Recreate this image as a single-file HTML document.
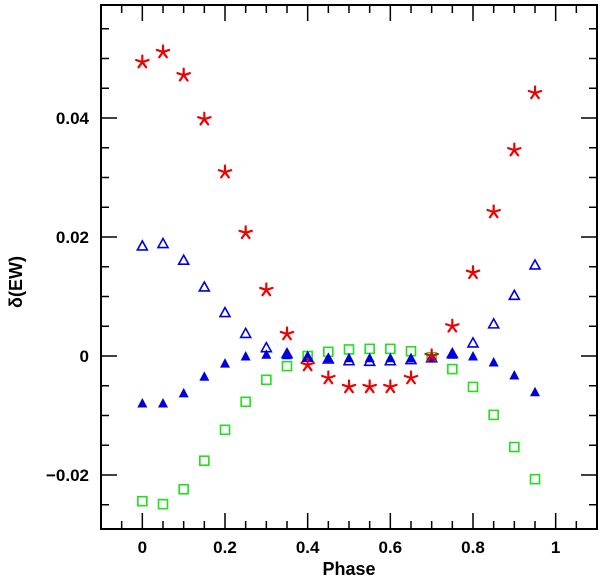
<!DOCTYPE html>
<html><head><meta charset="utf-8"><style>
body{margin:0;background:#fff}
svg text{font-family:"Liberation Sans",sans-serif;font-weight:bold;fill:#000}
</style></head><body>
<svg id="chart" width="600" height="578" xmlns="http://www.w3.org/2000/svg"></svg>
<script>
const phases=[0,0.05,0.1,0.15,0.2,0.25,0.3,0.35,0.4,0.45,0.5,0.55,0.6,0.65,0.7,0.75,0.8,0.85,0.9,0.95];
const stars=[0.0494,0.0511,0.0472,0.0398,0.0309,0.0207,0.0111,0.0037,-0.0015,-0.0037,-0.0052,-0.0052,-0.0052,-0.0037,0,0.005,0.014,0.0242,0.0346,0.0442];
const openTri=[0.0185,0.0189,0.0161,0.0116,0.0073,0.0038,0.0014,0.0004,-0.0002,-0.0005,-0.0008,-0.0009,-0.0008,-0.0006,-0.0003,0.0004,0.0022,0.0054,0.0102,0.0153];
const filledTri=[-0.0079,-0.0079,-0.0062,-0.0034,-0.0012,0,0.0003,0.0002,0,-0.0003,-0.0003,-0.0003,-0.0003,-0.0003,-0.0003,0.0003,0,-0.001,-0.0032,-0.006];
const squares=[-0.0244,-0.0249,-0.0224,-0.0176,-0.0124,-0.0077,-0.004,-0.0017,0,0.0007,0.0011,0.0012,0.0012,0.0008,-0.0002,-0.0022,-0.0052,-0.0099,-0.0153,-0.0207];
const xTickLabels=["0","0.2","0.4","0.6","0.8","1"];
const yTickLabels=["\u22120.02","0","0.02","0.04"];
const yTickValues=[-0.02,0,0.02,0.04];
const L=101,R=597,T=5,B=529,X0=-0.1,X1=1.1;
const sx=v=>L+(v-X0)/(X1-X0)*(R-L);
const sy=v=>356-v/0.02*119;
const svg=document.getElementById('chart');
const NS='http://www.w3.org/2000/svg';
function mk(tag,attrs,parent){const e=document.createElementNS(NS,tag);for(const k in attrs)e.setAttribute(k,attrs[k]);(parent||svg).appendChild(e);return e;}
const frame=mk('rect',{x:L,y:T,width:R-L,height:B-T,fill:'none',stroke:'#000','stroke-width':2});


for(let i=-2;i<=22;i++){const v=i*0.05;if(v<X0-1e-9||v>X1+1e-9)continue;const x=sx(v);const major=i%4===0;const len=major?16:8;
 const t1=mk('line',{x1:x,y1:B,x2:x,y2:B-len,stroke:'#000','stroke-width':1.5});
 const t2=mk('line',{x1:x,y1:T,x2:x,y2:T+len,stroke:'#000','stroke-width':1.5});}
xTickLabels.forEach((s,i)=>{const t=mk('text',{x:sx(i*0.2),y:553,'font-size':17,'text-anchor':'middle'});t.textContent=s;});
for(let i=-6;i<=12;i++){const v=i*0.005;const y=sy(v);if(y<T||y>B)continue;const major=i%4===0;const len=major?16:8;
 const t1=mk('line',{x1:L,y1:y,x2:L+len,y2:y,stroke:'#000','stroke-width':1.5});
 const t2=mk('line',{x1:R,y1:y,x2:R-len,y2:y,stroke:'#000','stroke-width':1.5});}
yTickLabels.forEach((s,i)=>{const t=mk('text',{x:89,y:sy(yTickValues[i])+6,'font-size':17,'text-anchor':'end'});t.textContent=s;});
const xl=mk('text',{x:349,y:575,'font-size':18,'text-anchor':'middle'});xl.textContent='Phase';


const yl=mk('text',{x:0,y:0,'font-size':18,'text-anchor':'middle',transform:'translate(22,282) rotate(-90)'});yl.textContent='\u03b4(EW)';


phases.forEach((p,i)=>{const x=sx(p),y=sy(squares[i]);
 const e=mk('rect',{x:x-4.5,y:y-4.5,width:9,height:9,fill:'none',stroke:'#22dd22','stroke-width':1.6});
 });
phases.forEach((p,i)=>{const x=sx(p),y=sy(openTri[i]);
 const e=mk('polygon',{points:`${x-5},${y+4} ${x+5},${y+4} ${x},${y-5}`,fill:'none',stroke:'#0000dd','stroke-width':1.6});
 });
phases.forEach((p,i)=>{const x=sx(p),y=sy(filledTri[i]);
 const e=mk('polygon',{points:`${x-5},${y+4.5} ${x+5},${y+4.5} ${x},${y-5}`,fill:'#0000dd'});
 });
phases.forEach((p,i)=>{const x=sx(p),y=sy(stars[i]);let d='';
 for(let k=0;k<5;k++){const a=-Math.PI/2+k*2*Math.PI/5;d+=`M${x},${y}L${(x+6.5*Math.cos(a)).toFixed(2)},${(y+6.5*Math.sin(a)).toFixed(2)}`;}
 const e=mk('path',{d:d,stroke:'#ee0000','stroke-width':2.2,fill:'none','stroke-linecap':'round'});
 });
</script>
</body></html>
